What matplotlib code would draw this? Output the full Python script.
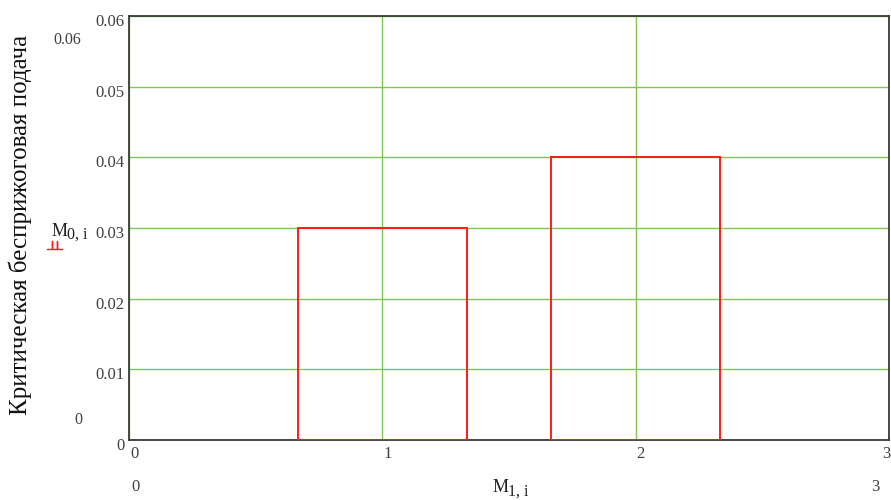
import numpy as np
import matplotlib.pyplot as plt
from matplotlib.lines import Line2D
import matplotlib.transforms as mtransforms

plt.rcParams['font.family'] = ['Liberation Serif', 'DejaVu Serif']

# data
bar_x = [1, 2]
bar_h = [0.03, 0.04]
bar_w = 2 / 3
x_ticks = [0, 1, 2, 3]
y_ticks = [0, 0.01, 0.02, 0.03, 0.04, 0.05, 0.06]
y_tick_labels = ["0", "0.01", "0.02", "0.03", "0.04", "0.05", "0.06"]
ylabel = "Критическая бесприжоговая подача"

green = '#80c656'
red = '#ff1a1a'
grey = '#3a3a3a'

fig = plt.figure(figsize=(8.91, 5.0), dpi=100)
ax = fig.add_axes([129 / 891, 60 / 500, 760 / 891, 424 / 500])

ax.bar(bar_x, bar_h, width=bar_w, fill=False, edgecolor=red, linewidth=1.4, zorder=3)

ax.set_xlim(0, 3)
ax.set_ylim(0, 0.06)
ax.set_xticks(x_ticks)
ax.set_xticklabels([str(v) for v in x_ticks])
ax.set_yticks(y_ticks)
ax.set_yticklabels(y_tick_labels)
ax.tick_params(length=0, labelsize=12, labelcolor='#404040', pad=3)
ax.grid(True, color=green, linewidth=1.0, zorder=0)
ax.set_axisbelow(True)
for s in ax.spines.values():
    s.set_color(grey)
    s.set_linewidth(1.3)

# mathcad style label placement
xlabs = ax.get_xticklabels()
for lab in xlabs:
    lab.set_horizontalalignment('left')
    lab.set_transform(lab.get_transform() + mtransforms.ScaledTranslation(1 / 100, -2 / 100, fig.dpi_scale_trans))
# last one would run off the figure edge
xlabs[-1].set_horizontalalignment('right')
for lab in ax.get_yticklabels():
    lab.set_transform(lab.get_transform() + mtransforms.ScaledTranslation(0, -4 / 100, fig.dpi_scale_trans))

fig.text(20 / 891, 1 - 225 / 500, ylabel, rotation=90, fontsize=18, ha='center', va='center', color='#111111')

# extra mathcad annotations
fig.text(67 / 891, 1 - 40 / 500, "0.06", fontsize=11.5, color='#404040', ha='center', va='center')
fig.text(78 / 891, 1 - 420 / 500, "0", fontsize=11.5, color='#404040', ha='center', va='center')
fig.text(135 / 891, 1 - 487 / 500, "0", fontsize=12, color='#404040', ha='center', va='center')
fig.text(875 / 891, 1 - 487 / 500, "3", fontsize=12, color='#404040', ha='center', va='center')

# M_{1,i} and M_{0,i}: mathcad subscripts are nearly full size
fig.text(493 / 891, 1 - 488 / 500, "M", fontsize=13, color='#222222', ha='left', va='center')
fig.text(508 / 891, 1 - 492 / 500, "1, i", fontsize=11.5, color='#222222', ha='left', va='center')
fig.text(52 / 891, 1 - 231 / 500, "M", fontsize=13, color='#222222', ha='left', va='center')
fig.text(67 / 891, 1 - 235 / 500, "0, i", fontsize=11.5, color='#222222', ha='left', va='center')

# little legend glyph under M0,i
gx = np.array([47, 52, 52, 52, 57, 57, 57, 62]) / 891
gy = 1 - np.array([249, 249, 241, 249, 249, 241, 249, 249]) / 500
fig.add_artist(Line2D(gx, gy, color=red, linewidth=1.0))

fig.savefig("out.png", dpi=100)
